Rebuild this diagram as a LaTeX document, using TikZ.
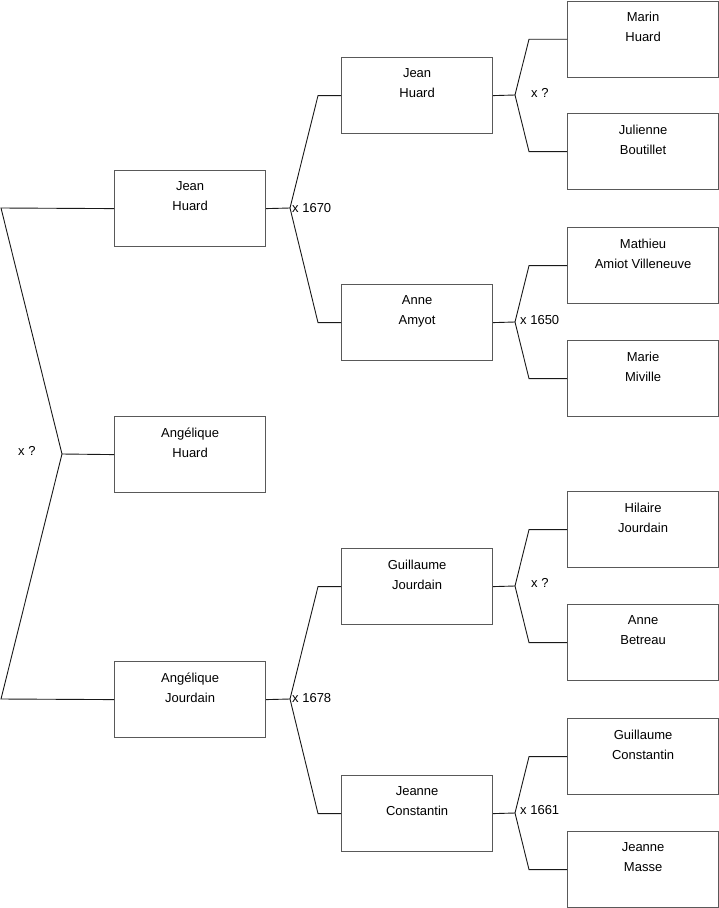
\documentclass[tikz,border=0pt]{standalone}
\usepackage{fontspec}
\setmainfont{Liberation Sans}
\begin{document}
\begin{tikzpicture}[x=1pt,y=-1pt,
  person/.style={draw=black!65, line width=1.2pt, minimum width=151pt, minimum height=76pt, inner sep=0pt, anchor=north west},
  ptext/.style={anchor=north, align=center, font=\fontsize{13}{20}\selectfont, inner sep=0pt},
  conn/.style={draw=black!90, line width=0.9pt},
  mlabel/.style={anchor=west, font=\fontsize{13}{14}\selectfont, inner sep=0pt}]
\useasboundingbox (0,0) rectangle (719,908);
% column 1
\node[person] (a1) at (114,170) {};
\node[person] (a2) at (114,416) {};
\node[person] (a3) at (114,661) {};
% column 2
\node[person] (b1) at (341,57) {};
\node[person] (b2) at (341,284) {};
\node[person] (b3) at (341,548) {};
\node[person] (b4) at (341,775) {};
% column 3
\node[person] (c1) at (567,0.6) {};
\node[person] (c2) at (567,113) {};
\node[person] (c3) at (567,227) {};
\node[person] (c4) at (567,340) {};
\node[person] (c5) at (567,491) {};
\node[person] (c6) at (567,604) {};
\node[person] (c7) at (567,718) {};
\node[person] (c8) at (567,831) {};
% texts
\foreach \n/\t in {a1/{Jean\\Huard}, a2/{Angélique\\Huard}, a3/{Angélique\\Jourdain},
  b1/{Jean\\Huard}, b2/{Anne\\Amyot}, b3/{Guillaume\\Jourdain}, b4/{Jeanne\\Constantin},
  c1/{Marin\\Huard}, c2/{Julienne\\Boutillet}, c3/{Mathieu\\Amiot Villeneuve}, c4/{Marie\\Miville},
  c5/{Hilaire\\Jourdain}, c6/{Anne\\Betreau}, c7/{Guillaume\\Constantin}, c8/{Jeanne\\Masse}}
  \node[ptext] (t\n) at ([yshift=-11.5]\n.north) {\t};
% column 1 connectors
\coordinate (f1) at (62,454);
\coordinate (e1) at (1,208);
\coordinate (e2) at (1,699);
\draw[conn] (a1.west) -- (e1) -- (f1) -- (a2.west);
\draw[conn] (f1) -- (e2) -- (a3.west);
\node[mlabel] (m1) at (18,451) {x ?};
% column 2 connectors
\coordinate (f2) at (290,208);
\coordinate (f3) at (290,699);
\draw[conn] (a1.east) -- (f2) -- ([xshift=-23]b1.west) -- (b1.west);
\draw[conn] (f2) -- ([xshift=-23]b2.west) -- (b2.west);
\draw[conn] (a3.east) -- (f3) -- ([xshift=-23]b3.west) -- (b3.west);
\draw[conn] (f3) -- ([xshift=-23]b4.west) -- (b4.west);
\node[mlabel] (m2) at (292,208) {x 1670};
\node[mlabel] (m3) at (292,698) {x 1678};
% column 3 connectors
\coordinate (g1) at (515,95);
\coordinate (g2) at (515,322);
\coordinate (g3) at (515,586);
\coordinate (g4) at (515,813);
\draw[conn] (b1.east) -- (g1) -- ([xshift=-38]c1.west) -- (c1.west);
\draw[conn] (g1) -- ([xshift=-38]c2.west) -- (c2.west);
\draw[conn] (b2.east) -- (g2) -- ([xshift=-38]c3.west) -- (c3.west);
\draw[conn] (g2) -- ([xshift=-38]c4.west) -- (c4.west);
\draw[conn] (b3.east) -- (g3) -- ([xshift=-38]c5.west) -- (c5.west);
\draw[conn] (g3) -- ([xshift=-38]c6.west) -- (c6.west);
\draw[conn] (b4.east) -- (g4) -- ([xshift=-38]c7.west) -- (c7.west);
\draw[conn] (g4) -- ([xshift=-38]c8.west) -- (c8.west);
\node[mlabel] (m4) at (531,93) {x ?};
\node[mlabel] (m5) at (520,320) {x 1650};
\node[mlabel] (m6) at (531,583) {x ?};
\node[mlabel] (m7) at (520,810) {x 1661};
\end{tikzpicture}
\end{document}
